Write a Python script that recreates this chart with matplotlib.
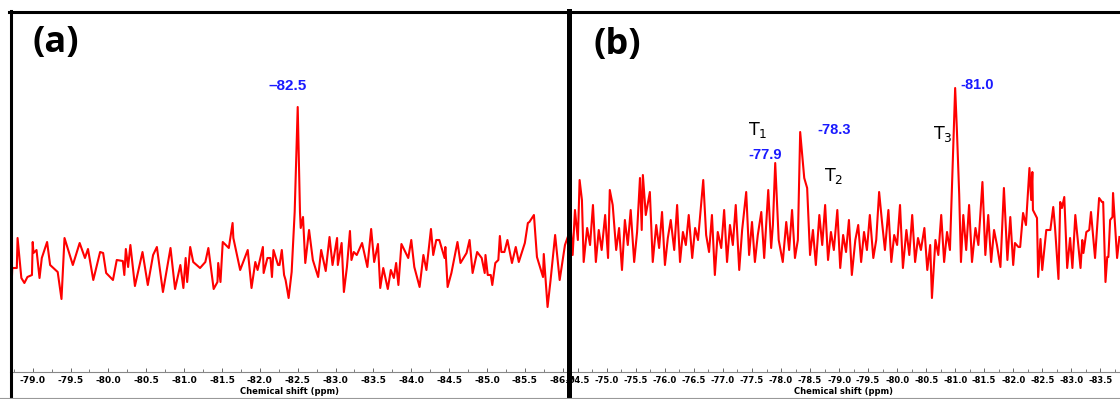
import matplotlib
matplotlib.use("Agg")
import matplotlib.pyplot as plt
from matplotlib.ticker import MultipleLocator, FormatStrFormatter
from matplotlib.lines import Line2D

# panel (a) spectrum
shift_a = [-78.70, -78.72, -78.73, -78.79, -78.80, -78.85, -78.89, -78.93, -78.99, -79.00,
           -79.01, -79.05, -79.09, -79.12, -79.19, -79.23, -79.33, -79.38, -79.42, -79.53,
           -79.62, -79.69, -79.73, -79.80, -79.89, -79.93, -79.97, -80.06, -80.11, -80.19,
           -80.21, -80.23, -80.26, -80.29, -80.35, -80.45, -80.52, -80.59, -80.64, -80.72,
           -80.82, -80.88, -80.95, -80.99, -81.02, -81.04, -81.08, -81.12, -81.21, -81.28,
           -81.32, -81.39, -81.44, -81.45, -81.48, -81.51, -81.59, -81.64, -81.65, -81.74,
           -81.84, -81.89, -81.94, -81.97, -82.04, -82.05, -82.10, -82.14, -82.16, -82.18,
           -82.24, -82.26, -82.29, -82.32, -82.34, -82.38, -82.42, -82.46, -82.50, -82.53,
           -82.54, -82.57, -82.60, -82.65, -82.70, -82.77, -82.81, -82.87, -82.92, -82.96,
           -83.02, -83.03, -83.08, -83.11, -83.15, -83.19, -83.21, -83.24, -83.28, -83.35,
           -83.42, -83.47, -83.51, -83.56, -83.59, -83.63, -83.69, -83.73, -83.77, -83.80,
           -83.83, -83.87, -83.96, -84.00, -84.04, -84.11, -84.16, -84.20, -84.26, -84.29,
           -84.33, -84.37, -84.44, -84.45, -84.48, -84.53, -84.61, -84.65, -84.73, -84.77,
           -84.81, -84.87, -84.93, -84.97, -84.98, -85.01, -85.05, -85.07, -85.11, -85.15,
           -85.17, -85.19, -85.23, -85.27, -85.33, -85.38, -85.42, -85.50, -85.54, -85.56,
           -85.62, -85.66, -85.68, -85.74, -85.75, -85.80, -85.84, -85.90, -85.96, -86.03,
           -86.09]
inten_a = [82, 84, 104, 104, 134, 94, 89, 95, 97, 130,
           119, 122, 94, 114, 130, 107, 100, 73, 134, 107,
           129, 114, 123, 92, 120, 119, 99, 92, 112, 111,
           97, 123, 105, 127, 86, 120, 87, 117, 125, 80,
           124, 83, 107, 84, 114, 90, 125, 110, 104, 110,
           124, 83, 90, 109, 90, 130, 124, 149, 134, 102,
           122, 84, 110, 102, 125, 99, 114, 114, 95, 122,
           107, 107, 122, 97, 92, 74, 100, 160, 265, 160,
           144, 155, 109, 142, 112, 95, 122, 101, 135, 107,
           134, 107, 129, 80, 105, 141, 112, 120, 117, 129,
           105, 143, 110, 128, 84, 104, 83, 102, 94, 109,
           87, 128, 114, 132, 105, 85, 117, 102, 143, 117,
           132, 132, 114, 125, 85, 99, 130, 109, 119, 132,
           99, 120, 114, 99, 117, 97, 97, 87, 109, 112,
           136, 120, 120, 132, 109, 125, 110, 129, 149, 150,
           157, 115, 110, 95, 118, 65, 92, 137, 92, 127,
           140]

# panel (b) spectrum
shift_b = [-74.33, -74.36, -74.41, -74.45, -74.50, -74.53, -74.57, -74.60, -74.66, -74.71,
           -74.76, -74.81, -74.86, -74.91, -74.97, -75.02, -75.05, -75.10, -75.16, -75.21,
           -75.26, -75.31, -75.36, -75.41, -75.47, -75.52, -75.57, -75.60, -75.62, -75.67,
           -75.74, -75.79, -75.85, -75.90, -75.95, -76.00, -76.05, -76.10, -76.16, -76.21,
           -76.26, -76.31, -76.36, -76.41, -76.47, -76.52, -76.57, -76.66, -76.71, -76.76,
           -76.81, -76.86, -76.91, -76.97, -77.02, -77.07, -77.12, -77.17, -77.22, -77.28,
           -77.33, -77.40, -77.45, -77.50, -77.55, -77.60, -77.66, -77.71, -77.78, -77.83,
           -77.86, -77.90, -77.96, -78.03, -78.09, -78.14, -78.19, -78.24, -78.29, -78.33,
           -78.40, -78.45, -78.50, -78.55, -78.60, -78.66, -78.71, -78.76, -78.81, -78.86,
           -78.91, -78.97, -79.02, -79.07, -79.12, -79.17, -79.22, -79.28, -79.33, -79.38,
           -79.43, -79.48, -79.53, -79.59, -79.64, -79.69, -79.74, -79.79, -79.85, -79.90,
           -79.95, -80.00, -80.05, -80.10, -80.16, -80.21, -80.26, -80.31, -80.36, -80.41,
           -80.47, -80.52, -80.57, -80.60, -80.66, -80.71, -80.76, -80.81, -80.86, -80.91,
           -80.97, -81.00, -81.03, -81.07, -81.10, -81.14, -81.19, -81.24, -81.29, -81.35,
           -81.40, -81.47, -81.52, -81.57, -81.62, -81.67, -81.72, -81.78, -81.84, -81.90,
           -81.95, -82.00, -82.03, -82.09, -82.12, -82.17, -82.22, -82.28, -82.31, -82.33,
           -82.34, -82.41, -82.43, -82.47, -82.50, -82.57, -82.64, -82.69, -82.72, -82.78,
           -82.81, -82.84, -82.88, -82.93, -82.98, -83.02, -83.07, -83.16, -83.19, -83.21,
           -83.26, -83.31, -83.34, -83.41, -83.48, -83.53, -83.55, -83.59, -83.62, -83.64,
           -83.67, -83.71, -83.72, -83.79, -83.83]
inten_b = [140, 157, 117, 162, 132, 192, 172, 110, 144, 127,
           167, 110, 142, 122, 157, 114, 182, 167, 122, 144,
           102, 152, 127, 162, 110, 140, 194, 142, 197, 157,
           180, 110, 147, 124, 160, 107, 134, 152, 122, 167,
           110, 140, 127, 157, 114, 144, 132, 192, 137, 120,
           157, 97, 140, 124, 162, 110, 147, 127, 167, 102,
           142, 180, 117, 150, 110, 137, 160, 114, 182, 124,
           147, 209, 132, 110, 150, 122, 162, 114, 132, 240,
           194, 184, 117, 142, 107, 157, 127, 167, 112, 140,
           122, 162, 104, 137, 120, 152, 97, 132, 147, 110,
           140, 122, 157, 114, 132, 180, 150, 122, 162, 110,
           137, 127, 167, 104, 142, 117, 157, 110, 134, 122,
           144, 102, 127, 74, 132, 117, 157, 110, 140, 122,
           232, 284, 242, 177, 110, 157, 122, 167, 110, 144,
           127, 190, 117, 157, 110, 142, 127, 105, 184, 112,
           155, 107, 129, 125, 125, 159, 147, 204, 172, 200,
           162, 154, 95, 133, 102, 142, 142, 165, 145, 93,
           170, 164, 175, 104, 134, 104, 157, 104, 132, 119,
           140, 142, 160, 114, 174, 170, 170, 90, 115, 115,
           152, 155, 179, 114, 135]

W, H = 1120, 399
fig = plt.figure(figsize=(W / 100, H / 100), dpi=100)


def fx(x):
    return x / W


def fy(y):
    return (H - y) / H


ax_a = fig.add_axes([fx(10), fy(372), fx(568) - fx(10), fy(11) - fy(372)])
ax_b = fig.add_axes([fx(568), fy(372), fx(1120) - fx(568), fy(11) - fy(372)])

ax_a.plot(shift_a, inten_a, color='red', lw=1.5)
ax_b.plot(shift_b, inten_b, color='red', lw=1.5)
ax_a.set_xlim(-78.70, -86.07)
ax_b.set_xlim(-74.33, -83.84)

for ax, fs in [(ax_a, 6.5), (ax_b, 6.0)]:
    ax.set_ylim(0, 361)
    ax.set_yticks([])
    for s in ['top', 'left', 'right']:
        ax.spines[s].set_visible(False)
    ax.spines['bottom'].set_color('#888888')
    ax.spines['bottom'].set_linewidth(0.8)
    ax.xaxis.set_major_locator(MultipleLocator(0.5))
    ax.xaxis.set_minor_locator(MultipleLocator(0.25))
    ax.xaxis.set_major_formatter(FormatStrFormatter('%.1f'))
    ax.tick_params(axis='x', which='major', direction='in', length=3, width=0.7,
                   color='#666666', labelsize=fs, pad=3)
    ax.tick_params(axis='x', which='minor', direction='in', length=2, width=0.6,
                   color='#666666')
    for lab in ax.get_xticklabels():
        lab.set_fontweight('bold')
    ax.set_xlabel('Chemical shift (ppm)', fontsize=6, fontweight='bold', labelpad=1)
    ax.patch.set_alpha(0)

# peak labels
blue = '#1a1aff'
ax_a.text(-82.37, 286, '\u201382.5', color=blue, fontsize=11, fontweight='bold',
          ha='center', va='center', family='Liberation Sans')
ax_b.text(-77.72, 217, '-77.9', color=blue, fontsize=10.5, fontweight='bold',
          ha='center', va='center', family='Liberation Sans')
ax_b.text(-78.91, 242, '-78.3', color=blue, fontsize=10.5, fontweight='bold',
          ha='center', va='center', family='Liberation Sans')
ax_b.text(-81.38, 287, '-81.0', color=blue, fontsize=10.5, fontweight='bold',
          ha='center', va='center', family='Liberation Sans')

# site labels
plt.rcParams['mathtext.fontset'] = 'custom'
plt.rcParams['mathtext.rm'] = 'Liberation Sans'
for tx, ty, sub in [(-77.60, 242, '1'), (-78.91, 196, '2'), (-80.79, 238, '3')]:
    ax_b.text(tx, ty, r'$\mathregular{T_%s}$' % sub, fontsize=12.5, ha='center',
              va='center')

# panel letters
fig.text(fx(56), fy(43), '(a)', fontsize=26, fontweight='bold', ha='center', va='center',
         family='Open Sans')
fig.text(fx(617), fy(45), '(b)', fontsize=26, fontweight='bold', ha='center', va='center',
         family='Open Sans')

# frame lines
fig.add_artist(Line2D([fx(9), fx(1120)], [fy(11.5), fy(11.5)], color='black', lw=2.2,
                      transform=fig.transFigure, zorder=10))
fig.add_artist(Line2D([fx(10.5), fx(10.5)], [fy(11), 0], color='black', lw=2.2,
                      transform=fig.transFigure, zorder=10))
fig.add_artist(Line2D([fx(568.5), fx(568.5)], [fy(11), 0], color='black', lw=3.6,
                      transform=fig.transFigure, zorder=10))
fig.add_artist(Line2D([0, 1], [fy(397.5), fy(397.5)], color='#999999', lw=0.8,
                      transform=fig.transFigure, zorder=10))

fig.savefig('out.png', dpi=100)
